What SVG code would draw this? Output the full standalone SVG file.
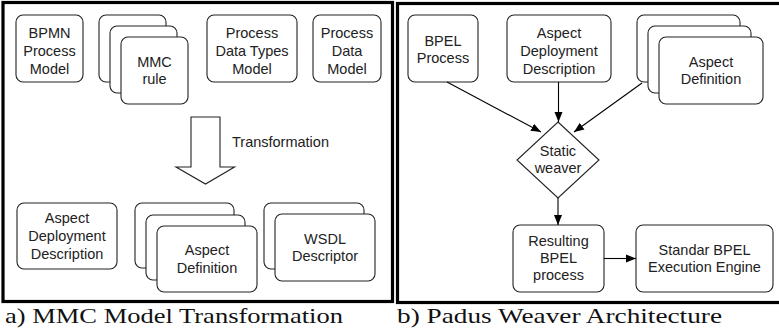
<svg xmlns="http://www.w3.org/2000/svg" width="779" height="331" viewBox="0 0 779 331">
<defs>
<style>
.box{fill:#fff;stroke:#222;stroke-width:1.1}
.frame{fill:none;stroke:#000;stroke-width:3.2}
.t{font-family:"Liberation Sans",Arial,sans-serif;font-size:14.5px;fill:#222;text-anchor:middle}
.cap{font-family:"Liberation Serif","Times New Roman",serif;font-size:22px;fill:#111}
.conn{stroke:#000;stroke-width:1.1;fill:none}
</style>
<marker id="ah" viewBox="0 0 10 10" refX="10" refY="5" markerWidth="10" markerHeight="10" markerUnits="userSpaceOnUse" orient="auto">
<path d="M0,1 L10,5 L0,9 Z" fill="#000"/>
</marker>
</defs>
<rect width="779" height="331" fill="#fff"/>
<rect class="frame" x="3" y="2.5" width="389.5" height="299"/>
<rect class="frame" x="397.5" y="3.5" width="384" height="299"/>
<g id="bpmn"><rect class="box" x="16" y="15" width="67" height="67" rx="7"/>
<text class="t" x="49.5" y="37.5">BPMN</text><text class="t" x="49.5" y="55.5">Process</text><text class="t" x="49.5" y="73.5">Model</text></g>
<g id="mmc"><rect class="box" x="99" y="15" width="67" height="67" rx="7"/><rect class="box" x="110" y="26" width="67" height="67" rx="7"/><rect class="box" x="121" y="37" width="67" height="67" rx="7"/>
<text class="t" x="154.5" y="66.5">MMC</text><text class="t" x="154.5" y="84">rule</text></g>
<g id="pdt"><rect class="box" x="207" y="15" width="90" height="67" rx="7"/>
<text class="t" x="252" y="37.5">Process</text><text class="t" x="252" y="55.5">Data Types</text><text class="t" x="252" y="73.5">Model</text></g>
<g id="pdm"><rect class="box" x="313" y="15" width="68" height="67" rx="7"/>
<text class="t" x="347" y="37.5">Process</text><text class="t" x="347" y="55.5">Data</text><text class="t" x="347" y="73.5">Model</text></g>
<g id="transformation"><path class="box" d="M191,117 H220 V167 H234.5 L205.5,184 L176,167 H191 Z"/>
<text class="t" x="232" y="147" style="text-anchor:start">Transformation</text></g>
<g id="add-left"><rect class="box" x="17" y="203" width="100" height="66" rx="7"/>
<text class="t" x="67" y="223">Aspect</text><text class="t" x="67" y="241">Deployment</text><text class="t" x="67" y="259">Description</text></g>
<g id="adef-left"><rect class="box" x="135" y="203" width="99" height="65" rx="7"/><rect class="box" x="146" y="215" width="99" height="65" rx="7"/><rect class="box" x="157" y="226" width="100" height="66" rx="7"/>
<text class="t" x="207" y="255">Aspect</text><text class="t" x="207" y="272.5">Definition</text></g>
<g id="wsdl"><rect class="box" x="264" y="203" width="100" height="66" rx="7"/><rect class="box" x="275" y="214" width="100" height="67" rx="7"/>
<text class="t" x="325" y="243.5">WSDL</text><text class="t" x="325" y="261">Descriptor</text></g>
<g id="bpel"><rect class="box" x="408" y="15" width="70" height="67" rx="7"/>
<text class="t" x="443" y="46">BPEL</text><text class="t" x="443" y="63">Process</text></g>
<g id="add-right"><rect class="box" x="507" y="15" width="104" height="67" rx="7"/>
<text class="t" x="559" y="37.5">Aspect</text><text class="t" x="559" y="55.5">Deployment</text><text class="t" x="559" y="73.5">Description</text></g>
<g id="adef-right"><rect class="box" x="637" y="15" width="103" height="67" rx="7"/><rect class="box" x="648" y="26" width="103" height="67" rx="7"/><rect class="box" x="659" y="37" width="104" height="67" rx="7"/>
<text class="t" x="711" y="66.5">Aspect</text><text class="t" x="711" y="84">Definition</text></g>
<g id="weaver"><path class="box" d="M558,122 L599,160 L558,198 L517,160 Z"/>
<text class="t" x="558" y="155.5">Static</text><text class="t" x="558" y="172.5">weaver</text></g>
<g id="result"><rect class="box" x="513" y="225" width="91" height="67" rx="7"/>
<text class="t" x="558.5" y="245.5">Resulting</text><text class="t" x="558.5" y="262.5">BPEL</text><text class="t" x="558.5" y="279.5">process</text></g>
<g id="engine"><rect class="box" x="636" y="225" width="137" height="67" rx="7"/>
<text class="t" x="704.5" y="255">Standar BPEL</text><text class="t" x="704.5" y="272">Execution Engine</text></g>
<g id="connectors">
<line class="conn" x1="447" y1="82" x2="541" y2="132" marker-end="url(#ah)"/>
<line class="conn" x1="558.5" y1="82" x2="558.5" y2="122" marker-end="url(#ah)"/>
<line class="conn" x1="642" y1="83" x2="574" y2="132" marker-end="url(#ah)"/>
<line class="conn" x1="558" y1="198" x2="558" y2="225" marker-end="url(#ah)"/>
<line class="conn" x1="604" y1="258.5" x2="636" y2="258.5" marker-end="url(#ah)"/>
</g>
<text class="cap" x="5" y="323" textLength="338" lengthAdjust="spacingAndGlyphs">a) MMC Model Transformation</text>
<text class="cap" x="397" y="323" textLength="325" lengthAdjust="spacingAndGlyphs">b) Padus Weaver Architecture</text>
</svg>
